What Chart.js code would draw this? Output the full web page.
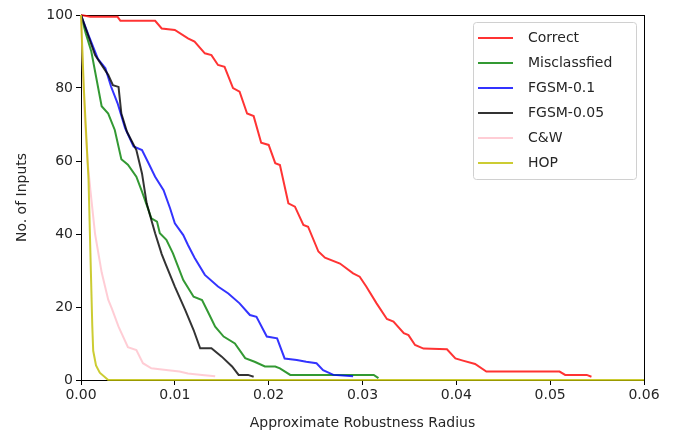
<!DOCTYPE html>
<html>
<head>
<meta charset="utf-8">
<script src="https://cdn.jsdelivr.net/npm/chart.js@4"></script>
<style>
  html, body { margin: 0; padding: 0; background: #fff; }
  #wrap { width: 685px; height: 436px; }
</style>
</head>
<body>
<div id="wrap"><canvas id="chart" width="685" height="436"></canvas></div>
<script>
// ===== data =====
const xTicks = [0, 0.01, 0.02, 0.03, 0.04, 0.05, 0.06];
const yTicks = [0, 20, 40, 60, 80, 100];
const seriesNames = ['Correct', 'Misclassfied', 'FGSM-0.1', 'FGSM-0.05', 'C&W', 'HOP'];
const seriesColors = ['rgba(255,0,0,0.8)', 'rgba(0,128,0,0.8)', 'rgba(0,0,255,0.8)', 'rgba(0,0,0,0.8)', 'rgba(255,192,203,0.8)', 'rgba(191,191,0,0.8)'];

// [radius, count]
const correct = [[0,100],[0.001,99.5],[0.0039,99.5],[0.0042,98.4],[0.0079,98.4],[0.0086,96.3],[0.0100,95.9],[0.0114,93.6],[0.0121,92.7],
  [0.0132,89.5],[0.0139,89],[0.0146,86.3],[0.0153,85.8],[0.0162,80],[0.0169,79],[0.0177,73],[0.0184,72.3],[0.0192,65],[0.0200,64.4],
  [0.0207,59.4],[0.0212,58.9],[0.0221,48.4],[0.0228,47.5],[0.0237,42.5],[0.0242,42],[0.0253,35.2],[0.0260,33.5],[0.0276,31.9],
  [0.0290,29.2],[0.0297,28.3],[0.0304,25.6],[0.0315,21],[0.0326,16.7],[0.0333,16],[0.0344,12.8],[0.0349,12.3],[0.0356,9.6],
  [0.0365,8.6],[0.0390,8.4],[0.0399,5.9],[0.0407,5.3],[0.0420,4.4],[0.0432,2.3],[0.0510,2.3],[0.0516,1.4],[0.0539,1.4],[0.0544,0.9]];
const misclassified = [[0,100],[0.0005,95],[0.0011,90],[0.0022,75],[0.0029,73],[0.0036,68.5],[0.0043,60.5],[0.0050,59],[0.0059,55.7],
  [0.0065,51.6],[0.0070,48],[0.0075,44.3],[0.0081,43.4],[0.0084,40.2],[0.0091,38.4],[0.0098,34.7],[0.0102,32],[0.0109,27.4],
  [0.0120,22.8],[0.0129,21.9],[0.0136,18.3],[0.0143,14.6],[0.0152,11.9],[0.0164,10],[0.0175,6],[0.0185,5],[0.0196,3.7],
  [0.0207,3.7],[0.0212,3.2],[0.0223,1.4],[0.0312,1.4],[0.0317,0.5]];
const fgsm01 = [[0,100],[0.0008,94.5],[0.0018,88],[0.0026,85.4],[0.0032,80.4],[0.0039,75.8],[0.0047,69],[0.0056,64],[0.0065,63],
  [0.0072,59.4],[0.0079,55.7],[0.0088,52],[0.0095,47],[0.0100,42.9],[0.0109,39.7],[0.0114,37],[0.0121,33.5],[0.0132,28.8],
  [0.0146,25.6],[0.0157,23.7],[0.0169,21],[0.0180,17.8],[0.0187,17.3],[0.0198,11.9],[0.0209,11.4],[0.0217,5.9],[0.0230,5.5],
  [0.0240,5],[0.0251,4.6],[0.0258,2.7],[0.0269,1.4],[0.0290,1]];
const fgsm005 = [[0,100],[0.0015,89],[0.0029,83.6],[0.0034,80.8],[0.0040,80.3],[0.0043,73],[0.0049,68],[0.0054,65.5],[0.0059,63],
  [0.0065,56.6],[0.0070,48.4],[0.0074,44.7],[0.0079,40.2],[0.0086,34.5],[0.0090,31.9],[0.0100,25.6],[0.0111,19.2],[0.0120,13.7],
  [0.0127,8.7],[0.0139,8.7],[0.0150,6.4],[0.0161,3.7],[0.0168,1.4],[0.0178,1.4],[0.0184,0.9]];
const cw = [[0,100],[0.0002,85],[0.0004,72],[0.0007,60],[0.0010,52],[0.0015,40],[0.0022,29.5],[0.0029,22],[0.0033,19.5],[0.0040,14.6],
  [0.0050,9],[0.0059,8.2],[0.0066,4.6],[0.0075,3.2],[0.0093,2.7],[0.0105,2.3],[0.0114,1.8],[0.0129,1.4],[0.0143,1]];
const hop = [[0,100],[0.0003,80],[0.0008,55],[0.0010,35],[0.0012,15],[0.0013,8],[0.0016,4],[0.0020,2],[0.0029,0],[0.06,0]];

const seriesData = [correct, misclassified, fgsm01, fgsm005, cw, hop];

const FONT = 'DejaVu Sans';
const TXT = '#262626';

// full frame round the plot, like matplotlib's spines (under the lines)
const framePlugin = {
    id: 'frame',
    beforeDatasetsDraw(chart) {
        const { ctx, chartArea: a } = chart;
        ctx.save();
        ctx.strokeStyle = '#000';
        ctx.lineWidth = 1;
        ctx.strokeRect(Math.round(a.left) + 0.5, Math.round(a.top) + 0.5, Math.round(a.right - a.left), Math.round(a.bottom - a.top));
        ctx.restore();
    }
};

// legend box in the upper right corner
const legendPlugin = {
    id: 'boxLegend',
    afterDraw(chart) {
        const { ctx } = chart;
        const x = 473, y = 22, w = 163, h = 157;
        ctx.save();
        ctx.fillStyle = 'rgba(255,255,255,0.8)';
        ctx.strokeStyle = '#d0d0d0';
        ctx.lineWidth = 1;
        ctx.beginPath();
        ctx.roundRect(x + 0.5, y + 0.5, w, h, 3);
        ctx.fill(); ctx.stroke();
        ctx.font = '14px ' + FONT;
        ctx.textBaseline = 'middle';
        chart.data.datasets.forEach((ds, i) => {
            const cy = 38 + i * 25;
            ctx.strokeStyle = ds.borderColor;
            ctx.lineWidth = 2;
            ctx.beginPath(); ctx.moveTo(478, cy); ctx.lineTo(513, cy); ctx.stroke();
            ctx.fillStyle = TXT;
            ctx.fillText(ds.label, 528, cy);
        });
        ctx.restore();
    }
};

new Chart(document.getElementById('chart'), {
    type: 'line',
    data: {
        datasets: seriesNames.map((name, i) => ({
            label: name,
            data: seriesData[i].map(p => ({ x: p[0], y: p[1] })),
            borderColor: seriesColors[i],
            backgroundColor: seriesColors[i],
            borderWidth: 2,
            pointRadius: 0,
            tension: 0,
            fill: false,
            clip: 3,
            order: seriesNames.length - i
        }))
    },
    options: {
        responsive: false,
        animation: false,
        layout: { padding: { top: 15, right: 41, left: 0, bottom: 0 } },
        plugins: { legend: { display: false }, tooltip: { enabled: false } },
        scales: {
            x: {
                type: 'linear', min: 0, max: 0.06,
                afterFit(s) { s.height = 56; },
                afterBuildTicks(s) { s.ticks = xTicks.map(v => ({ value: v })); },
                grid: { drawOnChartArea: false, drawTicks: true, tickLength: 5, color: '#000', tickColor: '#000' },
                border: { display: false },
                ticks: { color: TXT, font: { family: FONT, size: 14 }, padding: 2, maxRotation: 0, callback: v => v.toFixed(2) },
                title: { display: true, text: 'Approximate Robustness Radius', color: TXT, font: { family: FONT, size: 14 }, padding: { top: 0, bottom: 4 } }
            },
            y: {
                type: 'linear', min: 0, max: 100,
                afterFit(s) { s.width = 81; },
                afterBuildTicks(s) { s.ticks = yTicks.map(v => ({ value: v })); },
                grid: { drawOnChartArea: false, drawTicks: true, tickLength: 5, color: '#000', tickColor: '#000' },
                border: { display: false },
                ticks: { color: TXT, font: { family: FONT, size: 14 }, padding: 3 },
                title: { display: true, text: 'No. of Inputs', color: TXT, font: { family: FONT, size: 14 }, padding: { top: 14, bottom: 0 } }
            }
        }
    },
    plugins: [framePlugin, legendPlugin]
});
</script>
</body>
</html>
